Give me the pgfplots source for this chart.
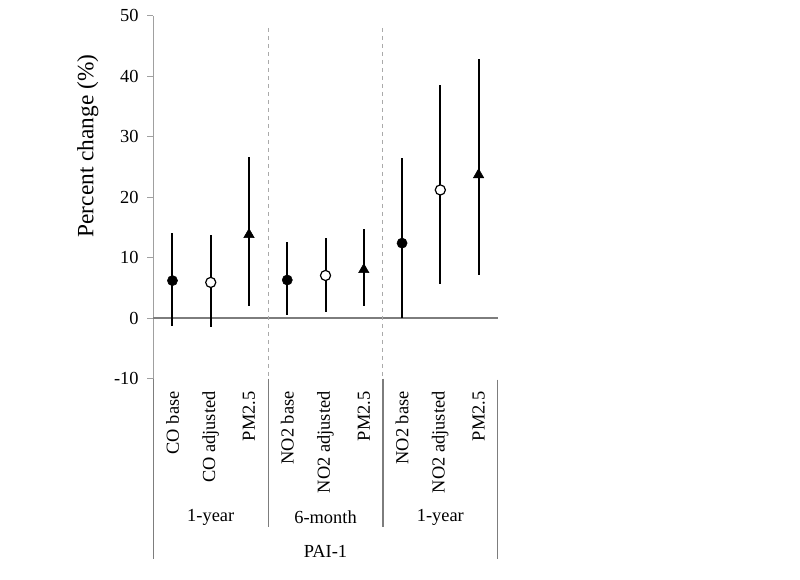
\documentclass[border=0pt]{standalone}
\usepackage{pgfplots}
\pgfplotsset{compat=1.18}
\usepackage{pgfplotstable}
\usepackage{fontspec}
\setmainfont{Liberation Serif}
\definecolor{axgray}{RGB}{160,160,160}
\definecolor{zerogray}{RGB}{125,125,125}
\definecolor{dashgray}{RGB}{170,170,170}
\pgfplotstableread{
x y ep em
0.5 6.2 7.85 7.45
3.5 6.3 6.3 5.74
6.5 12.4 14.1 12.4
}\filled
\pgfplotstableread{
x y ep em
1.5 5.9 7.8 7.4
4.5 7.05 6.15 6.05
7.5 21.2 17.4 15.5
}\open
\pgfplotstableread{
x y ep em
2.5 13.8 12.9 11.75
5.5 8.0 6.7 5.95
8.5 23.7 19.1 16.5
}\tri
\begin{document}
\begin{tikzpicture}
\useasboundingbox (0,0) rectangle (600pt,-435pt);
\begin{axis}[
  at={(115pt,-283.9pt)}, anchor=south west,
  scale only axis, width=258.3pt, height=272pt,
  xmin=0, xmax=9, ymin=-10, ymax=50,
  axis x line=none, axis y line*=left,
  y axis line style={axgray, line width=0.8pt},
  ytick={-10,0,...,50},
  tick align=outside, major tick length=4.5pt,
  ytick style={axgray, line width=0.8pt},
  /pgf/number format/assume math mode=true,
  yticklabel style={font=\fontsize{13.8}{15}\selectfont, xshift=-3pt},
  every axis y label/.style={at={(rel axis cs:-0.19,0.641)}, rotate=90, anchor=center, font=\fontsize{17.5}{20}\selectfont},
  ylabel={Percent change (\%)},
  clip=false,
]
% decorations
\draw[zerogray, line width=0.9pt] (axis cs:0,0) -- (axis cs:9,0);
\draw[dashgray, dashed, line width=0.8pt] (axis cs:3,48) -- (axis cs:3,-10);
\draw[dashgray, dashed, line width=0.8pt] (axis cs:6,48) -- (axis cs:6,-10);
\draw[zerogray, line width=0.9pt] (axis cs:0,-10) -- (axis cs:0,-39.9);
\draw[zerogray, line width=0.9pt] (axis cs:3,-10) -- (axis cs:3,-34.5);
\draw[zerogray, line width=0.9pt] (axis cs:6,-10) -- (axis cs:6,-34.5);
\draw[zerogray, line width=0.9pt] (axis cs:9,-10.2) -- (axis cs:9,-39.9);
% category labels
\foreach \xx/\lab in {0.5/CO base,1.5/CO adjusted,2.5/PM2.5,3.5/NO2 base,4.5/NO2 adjusted,5.5/PM2.5,6.5/NO2 base,7.5/NO2 adjusted,8.5/PM2.5}{
  \edef\temp{\noexpand\node[rotate=90, anchor=east, inner sep=0pt, font=\noexpand\fontsize{13.8}{15}\noexpand\selectfont] at (axis cs:\xx,-12.1) {\lab};}
  \temp
}
\node[font=\fontsize{13.8}{15}\selectfont] at (axis cs:1.5,-33) {1-year};
\node[font=\fontsize{13.8}{15}\selectfont] at (axis cs:4.5,-33) {6-month};
\node[font=\fontsize{13.8}{15}\selectfont] at (axis cs:7.5,-33) {1-year};
\node[font=\fontsize{13.8}{15}\selectfont] at (axis cs:4.5,-38.6) {PAI-1};
% data
\addplot[only marks, mark=*, mark size=3.8pt, mark options={fill=black, draw=black},
  error bars/.cd, y dir=both, y explicit, error mark=none,
  error bar style={black, line width=1.5pt, solid}]
  table[x=x, y=y, y error plus=ep, y error minus=em] {\filled};
\addplot[only marks, mark=*, mark size=3.8pt, mark options={fill=white, draw=black, line width=0.9pt},
  error bars/.cd, y dir=both, y explicit, error mark=none,
  error bar style={black, line width=1.5pt, solid}]
  table[x=x, y=y, y error plus=ep, y error minus=em] {\open};
\addplot[only marks, mark=triangle*, mark size=4.5pt, mark options={fill=black, draw=black},
  error bars/.cd, y dir=both, y explicit, error mark=none,
  error bar style={black, line width=1.5pt, solid}]
  table[x=x, y=y, y error plus=ep, y error minus=em] {\tri};
\end{axis}
\end{tikzpicture}
\end{document}
